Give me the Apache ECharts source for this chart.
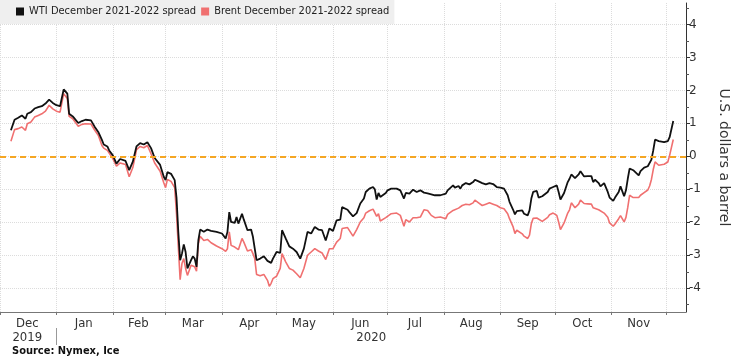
<!DOCTYPE html>
<html>
<head>
<meta charset="utf-8">
<script src="https://cdn.jsdelivr.net/npm/echarts@6/dist/echarts.min.js"></script>
<style>html,body{margin:0;padding:0;background:#fff;}#c{width:740px;height:359px;}</style>
</head>
<body>
<div id="c"></div>
<script>
const dates = ['2019-12-07','2019-12-09','2019-12-11','2019-12-13','2019-12-15','2019-12-16','2019-12-18','2019-12-20','2019-12-22','2019-12-24','2019-12-26','2019-12-28','2019-12-30',
'2020-01-01','2020-01-03','2020-01-05','2020-01-06','2020-01-07','2020-01-08','2020-01-10','2020-01-11','2020-01-13','2020-01-15','2020-01-17','2020-01-18','2020-01-20','2020-01-22','2020-01-24','2020-01-26','2020-01-27','2020-01-29','2020-01-30',
'2020-02-01','2020-02-03','2020-02-05','2020-02-06','2020-02-08','2020-02-10','2020-02-12','2020-02-14','2020-02-16','2020-02-18','2020-02-20','2020-02-21','2020-02-22','2020-02-24','2020-02-27','2020-02-29',
'2020-03-01','2020-03-02','2020-03-04','2020-03-06','2020-03-07','2020-03-08','2020-03-09','2020-03-10','2020-03-11','2020-03-12','2020-03-13','2020-03-15','2020-03-16','2020-03-17','2020-03-18','2020-03-19','2020-03-20','2020-03-22','2020-03-24','2020-03-25','2020-03-26','2020-03-29',
'2020-04-01','2020-04-03','2020-04-04','2020-04-05','2020-04-06','2020-04-08','2020-04-09','2020-04-10','2020-04-12','2020-04-13','2020-04-15','2020-04-17','2020-04-18','2020-04-19','2020-04-20','2020-04-22','2020-04-24','2020-04-26','2020-04-27','2020-04-28','2020-04-29',
'2020-05-01','2020-05-03','2020-05-04','2020-05-06','2020-05-08','2020-05-10','2020-05-12','2020-05-14','2020-05-16','2020-05-18','2020-05-20','2020-05-22','2020-05-24','2020-05-26','2020-05-28','2020-05-29','2020-05-30',
'2020-06-01','2020-06-03','2020-06-05','2020-06-06','2020-06-09','2020-06-10','2020-06-12','2020-06-14','2020-06-16','2020-06-18','2020-06-19','2020-06-21','2020-06-23','2020-06-24','2020-06-25','2020-06-26','2020-06-27','2020-06-30',
'2020-07-01','2020-07-03','2020-07-06','2020-07-08','2020-07-10','2020-07-11','2020-07-13','2020-07-15','2020-07-17','2020-07-19','2020-07-21','2020-07-23','2020-07-25','2020-07-27','2020-07-30',
'2020-08-02','2020-08-03','2020-08-06','2020-08-07','2020-08-09','2020-08-10','2020-08-11','2020-08-13','2020-08-15','2020-08-17','2020-08-18','2020-08-20','2020-08-22','2020-08-24','2020-08-26','2020-08-28','2020-08-30',
'2020-09-01','2020-09-03','2020-09-05','2020-09-06','2020-09-08','2020-09-09','2020-09-10','2020-09-11','2020-09-13','2020-09-14','2020-09-16','2020-09-17','2020-09-18','2020-09-19','2020-09-21','2020-09-22','2020-09-24','2020-09-27','2020-09-28','2020-09-30',
'2020-10-02','2020-10-03','2020-10-04','2020-10-06','2020-10-08','2020-10-09','2020-10-10','2020-10-12','2020-10-14','2020-10-15','2020-10-17','2020-10-19','2020-10-21','2020-10-22','2020-10-23','2020-10-25','2020-10-26','2020-10-28','2020-10-30','2020-10-31',
'2020-11-02','2020-11-03','2020-11-05','2020-11-06','2020-11-07','2020-11-08','2020-11-09','2020-11-10','2020-11-11','2020-11-13','2020-11-14','2020-11-16','2020-11-17','2020-11-19','2020-11-21','2020-11-22','2020-11-23','2020-11-24','2020-11-25','2020-11-27','2020-11-28','2020-11-30',
'2020-12-02','2020-12-03','2020-12-05'];

const wti = [0.79,1.11,1.17,1.24,1.14,1.29,1.34,1.45,1.49,1.52,1.60,1.72,1.62,
1.55,1.52,2.03,2.08,1.90,1.29,1.21,1.19,1.01,1.07,1.11,1.10,1.09,0.90,0.74,0.50,0.36,0.30,0.18,
0.03,-0.22,-0.08,-0.05,-0.14,-0.42,-0.16,0.30,0.40,0.36,0.43,0.45,0.25,-0.05,-0.26,-0.62,
-0.72,-0.48,-0.53,-0.72,-1.25,-2.30,-3.15,-2.95,-2.67,-2.90,-3.40,-3.15,-3.03,-3.10,-3.35,-2.55,-2.22,-2.29,-2.22,-2.24,-2.26,-2.29,
-2.34,-2.49,-2.29,-1.69,-1.99,-2.02,-1.84,-2.04,-1.74,-1.92,-2.24,-2.22,-2.44,-2.80,-3.15,-3.10,-3.03,-3.17,-3.20,-3.23,-3.10,
-2.90,-2.93,-2.24,-2.49,-2.73,-2.80,-2.90,-3.10,-2.80,-2.29,-2.34,-2.14,-2.22,-2.24,-2.55,-2.60,-2.19,
-2.26,-1.94,-1.92,-1.54,-1.62,-1.69,-1.82,-1.72,-1.43,-1.28,-1.08,-0.98,-0.93,-1.00,-1.31,-1.11,-1.23,-1.11,
-1.03,-0.98,-0.98,-1.03,-1.28,-1.11,-1.13,-1.01,-1.08,-1.03,-1.10,-1.12,-1.15,-1.18,-1.18,
-1.13,-1.03,-0.88,-0.95,-0.90,-0.98,-0.88,-0.81,-0.85,-0.78,-0.71,-0.76,-0.81,-0.85,-0.81,-0.84,-0.93,
-0.95,-0.98,-1.18,-1.38,-1.62,-1.76,-1.66,-1.72,-1.64,-1.74,-1.79,-1.64,-1.28,-1.08,-1.05,-1.25,-1.21,-1.08,-0.98,-0.93,
-0.88,-1.08,-1.31,-1.11,-0.78,-0.68,-0.55,-0.66,-0.55,-0.45,-0.61,-0.60,-0.60,-0.78,-0.71,-0.81,-0.91,-0.81,-1.08,-1.25,
-1.35,-1.25,-1.08,-0.91,-0.95,-1.21,-1.03,-0.68,-0.37,-0.42,-0.48,-0.58,-0.45,-0.34,-0.30,-0.24,-0.10,0.18,0.51,0.46,0.48,0.43,
0.46,0.58,1.07];

const brent = [0.46,0.81,0.84,0.89,0.79,0.99,1.04,1.19,1.24,1.29,1.37,1.55,1.44,
1.37,1.34,1.90,1.92,1.75,1.21,1.14,1.09,0.91,0.97,0.99,0.97,0.98,0.80,0.64,0.33,0.25,0.18,0.13,
-0.07,-0.30,-0.20,-0.17,-0.25,-0.62,-0.34,0.20,0.30,0.26,0.33,0.36,0.08,-0.20,-0.45,-0.80,
-0.95,-0.70,-0.76,-0.95,-1.74,-2.75,-3.74,-3.25,-3.10,-3.40,-3.61,-3.30,-3.30,-3.35,-3.48,-2.65,-2.42,-2.55,-2.52,-2.52,-2.62,-2.72,
-2.80,-2.88,-2.80,-2.29,-2.70,-2.75,-2.70,-2.83,-2.49,-2.60,-2.87,-2.83,-2.95,-3.10,-3.58,-3.62,-3.58,-3.76,-3.94,-3.85,-3.71,
-3.63,-3.40,-2.95,-3.20,-3.40,-3.45,-3.56,-3.68,-3.40,-3.00,-2.90,-2.80,-2.87,-2.93,-3.13,-3.17,-2.80,
-2.80,-2.60,-2.49,-2.19,-2.16,-2.20,-2.42,-2.22,-1.99,-1.86,-1.72,-1.65,-1.60,-1.62,-1.82,-1.74,-1.96,-1.86,
-1.80,-1.74,-1.72,-1.79,-2.12,-1.92,-1.99,-1.86,-1.86,-1.84,-1.62,-1.64,-1.79,-1.86,-1.84,
-1.89,-1.76,-1.64,-1.62,-1.57,-1.56,-1.49,-1.45,-1.47,-1.41,-1.33,-1.41,-1.49,-1.45,-1.41,-1.45,-1.49,
-1.56,-1.59,-1.74,-1.89,-2.14,-2.34,-2.24,-2.29,-2.35,-2.42,-2.49,-2.39,-2.04,-1.88,-1.87,-1.92,-1.97,-1.85,-1.77,-1.72,
-1.79,-1.99,-2.22,-2.02,-1.72,-1.62,-1.41,-1.56,-1.45,-1.33,-1.43,-1.44,-1.45,-1.56,-1.55,-1.62,-1.67,-1.72,-1.85,-2.02,
-2.12,-2.05,-1.89,-1.80,-1.76,-1.99,-1.85,-1.55,-1.18,-1.25,-1.29,-1.25,-1.18,-1.10,-1.02,-0.90,-0.70,-0.40,-0.17,-0.27,-0.33,-0.24,
-0.17,0.03,0.51];

const seriesNames = ['WTI December 2021-2022 spread', 'Brent December 2021-2022 spread'];
const monthStarts = ['2019-12-01','2020-01-01','2020-02-01','2020-03-01','2020-04-01','2020-05-01','2020-06-01','2020-07-01','2020-08-01','2020-09-01','2020-10-01','2020-11-01','2020-12-01'];
const monthLabelDates = ['2019-12-16','2020-01-16','2020-02-15','2020-03-16','2020-04-16','2020-05-16','2020-06-16','2020-07-16','2020-08-16','2020-09-16','2020-10-16','2020-11-16'];
const monthNames = ['Jan','Feb','Mar','Apr','May','Jun','Jul','Aug','Sep','Oct','Nov','Dec'];
const yearLabelDates = ['2019-12-16','2020-06-22'];
const yearSeparator = ['2020-01-01'];
const yTicks = [-4,-3,-2,-1,0,1,2,3,4];
const yMinorTicks = [-4.5,-3.5,-2.5,-1.5,-0.5,0.5,1.5,2.5,3.5,4.5];
const xRange = ['2019-12-01','2020-12-12'];
const yRange = [-4.72, 4.65];

const t = s => { const p = s.split('-').map(Number); return new Date(p[0], p[1]-1, p[2]).getTime(); };
const FONT = 'DejaVu Sans Condensed, DejaVu Sans, sans-serif';

const chart = echarts.init(document.getElementById('c'), null, {renderer: 'canvas'});
chart.setOption({
  animation: false,
  backgroundColor: '#fff',
  title: {
    text: 'Source: Nymex, Ice', left: 12, bottom: 0, padding: [0,0,2,0],
    textStyle: {fontFamily: FONT, fontSize: 11, fontWeight: 'bold', color: '#111'}
  },
  legend: {
    data: seriesNames, left: 0, top: 0, padding: [6, 5, 7, 16], itemGap: 5,
    itemWidth: 8, itemHeight: 8, icon: 'rect', backgroundColor: '#efefef',
    textStyle: {fontFamily: FONT, fontSize: 11, color: '#222'}
  },
  grid: {left: 0, right: 54, top: 3, bottom: 47, containLabel: false},
  xAxis: [{
    type: 'value', min: t(xRange[0]), max: t(xRange[1]),
    axisLine: {show: true, onZero: false, lineStyle: {color: '#777', width: 1}},
    axisTick: {show: true, customValues: monthStarts.map(t), length: 3, lineStyle: {color: '#777'}},
    axisLabel: {customValues: monthLabelDates.map(t), formatter: v => monthNames[new Date(v).getMonth()],
      margin: 5, fontFamily: FONT, fontSize: 13, color: '#333'},
    splitLine: {show: true, lineStyle: {color: '#dcdcdc', type: 'dotted', width: 1}}
  }, {
    type: 'value', min: t(xRange[0]), max: t(xRange[1]), position: 'bottom', offset: 16,
    axisLine: {show: false, onZero: false},
    axisTick: {show: true, customValues: yearSeparator.map(t), length: 17, lineStyle: {color: '#999'}},
    axisLabel: {customValues: yearLabelDates.map(t), formatter: v => String(new Date(v).getFullYear()),
      margin: 3, fontFamily: FONT, fontSize: 13, color: '#333'},
    splitLine: {show: false}
  }],
  yAxis: [{
    type: 'value', position: 'right', min: yRange[0], max: yRange[1],
    name: 'U.S. dollars a barrel', nameLocation: 'middle', nameRotate: -90, nameGap: 31,
    nameTextStyle: {fontFamily: 'DejaVu Sans, sans-serif', fontSize: 14, color: '#333'},
    axisLine: {show: true, onZero: false, lineStyle: {color: '#333', width: 1}},
    axisTick: {show: true, customValues: yTicks, length: 4, lineStyle: {color: '#333'}},
    axisLabel: {customValues: yTicks, margin: 3, fontFamily: 'DejaVu Sans, sans-serif', fontSize: 12, color: '#333'},
    splitLine: {show: true, lineStyle: {color: '#dcdcdc', type: 'dotted', width: 1}}
  }, {
    type: 'value', position: 'right', min: yRange[0], max: yRange[1],
    axisLine: {show: false, onZero: false},
    axisTick: {show: true, customValues: yMinorTicks, length: 3, lineStyle: {color: '#555'}},
    axisLabel: {show: false},
    splitLine: {show: false}
  }],
  series: [{
    name: seriesNames[1], type: 'line', showSymbol: false, symbol: 'none',
    data: dates.map((d, i) => [t(d), brent[i]]),
    lineStyle: {color: '#f07070', width: 1.6}, itemStyle: {color: '#f07070'}, z: 2
  }, {
    name: seriesNames[0], type: 'line', showSymbol: false, symbol: 'none',
    data: dates.map((d, i) => [t(d), wti[i]]),
    lineStyle: {color: '#111111', width: 1.8}, itemStyle: {color: '#111111'}, z: 3,
    markLine: {
      silent: true, symbol: 'none', label: {show: false},
      lineStyle: {color: '#f5a623', type: [6, 4], width: 2},
      data: [{yAxis: 0}]
    }
  }]
});
</script>
</body>
</html>
